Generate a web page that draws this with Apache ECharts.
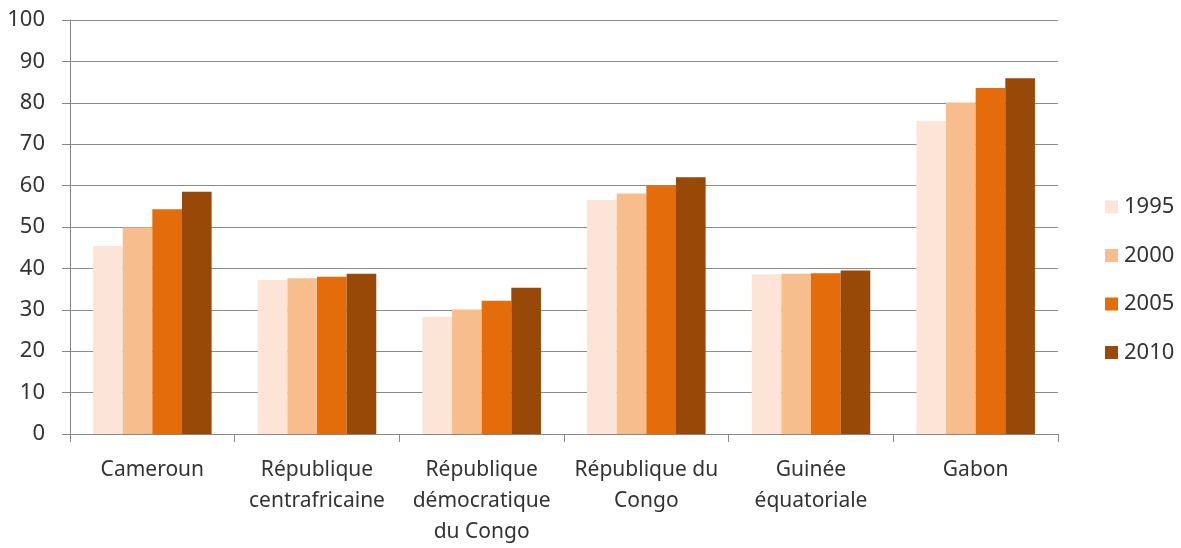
<!DOCTYPE html>
<html>
<head>
<meta charset="utf-8">
<script src="https://cdn.jsdelivr.net/npm/echarts@6/dist/echarts.min.js"></script>
<style>
html,body{margin:0;padding:0;background:#fff;}
#chart{width:1181px;height:548px;}
</style>
</head>
<body>
<div id="chart"></div>
<script>
const categories = [
  "Cameroun",
  "République\ncentrafricaine",
  "République\ndémocratique\ndu Congo",
  "République du\nCongo",
  "Guinée\néquatoriale",
  "Gabon"
];
const seriesNames = ["1995", "2000", "2005", "2010"];
const values1995 = [45.4, 37.2, 28.3, 56.5, 38.6, 75.6];
const values2000 = [49.9, 37.6, 30.1, 58.1, 38.7, 80.1];
const values2005 = [54.3, 38.0, 32.2, 60.0, 38.8, 83.6];
const values2010 = [58.5, 38.7, 35.3, 62.0, 39.5, 85.9];
const colors = ["#FCE4D6", "#F7BD8C", "#E46C0A", "#984807"];

const allValues = [values1995, values2000, values2005, values2010];
const font = "'Noto Sans', 'Open Sans', sans-serif";

const chart = echarts.init(document.getElementById('chart'), null, {renderer: 'canvas'});
chart.setOption({
  animation: false,
  backgroundColor: '#ffffff',
  color: colors,
  grid: { left: 70, right: 123, top: 20, bottom: 114, containLabel: false },
  legend: {
    orient: 'vertical',
    left: 1100,
    top: 191,
    itemWidth: 13,
    itemHeight: 13,
    itemGap: 26.5,
    icon: 'rect',
    data: seriesNames,
    textStyle: { fontFamily: font, fontSize: 22, color: '#333333', lineHeight: 22, padding: [0,0,0,1] }
  },
  xAxis: {
    type: 'category',
    data: categories,
    axisLine: { lineStyle: { color: '#868686', width: 1 } },
    axisTick: { show: true, inside: false, length: 8, alignWithLabel: false, lineStyle: { color: '#868686' } },
    axisLabel: { interval: 0, margin: 21, fontFamily: font, fontSize: 21, lineHeight: 31, color: '#333333' },
    splitLine: { show: false }
  },
  yAxis: {
    type: 'value',
    min: 0,
    max: 100,
    interval: 10,
    axisLine: { show: true, lineStyle: { color: '#868686', width: 1 } },
    axisTick: { show: true, inside: false, length: 8, lineStyle: { color: '#868686' } },
    axisLabel: { margin: 25, fontFamily: font, fontSize: 22, color: '#333333' },
    splitLine: { show: true, lineStyle: { color: '#8c8c8c', width: 1 } }
  },
  series: seriesNames.map((name, i) => ({
    name: name,
    type: 'bar',
    data: allValues[i],
    barGap: '0%',
    barCategoryGap: '28%',
    itemStyle: { color: colors[i] }
  }))
});
</script>
</body>
</html>
